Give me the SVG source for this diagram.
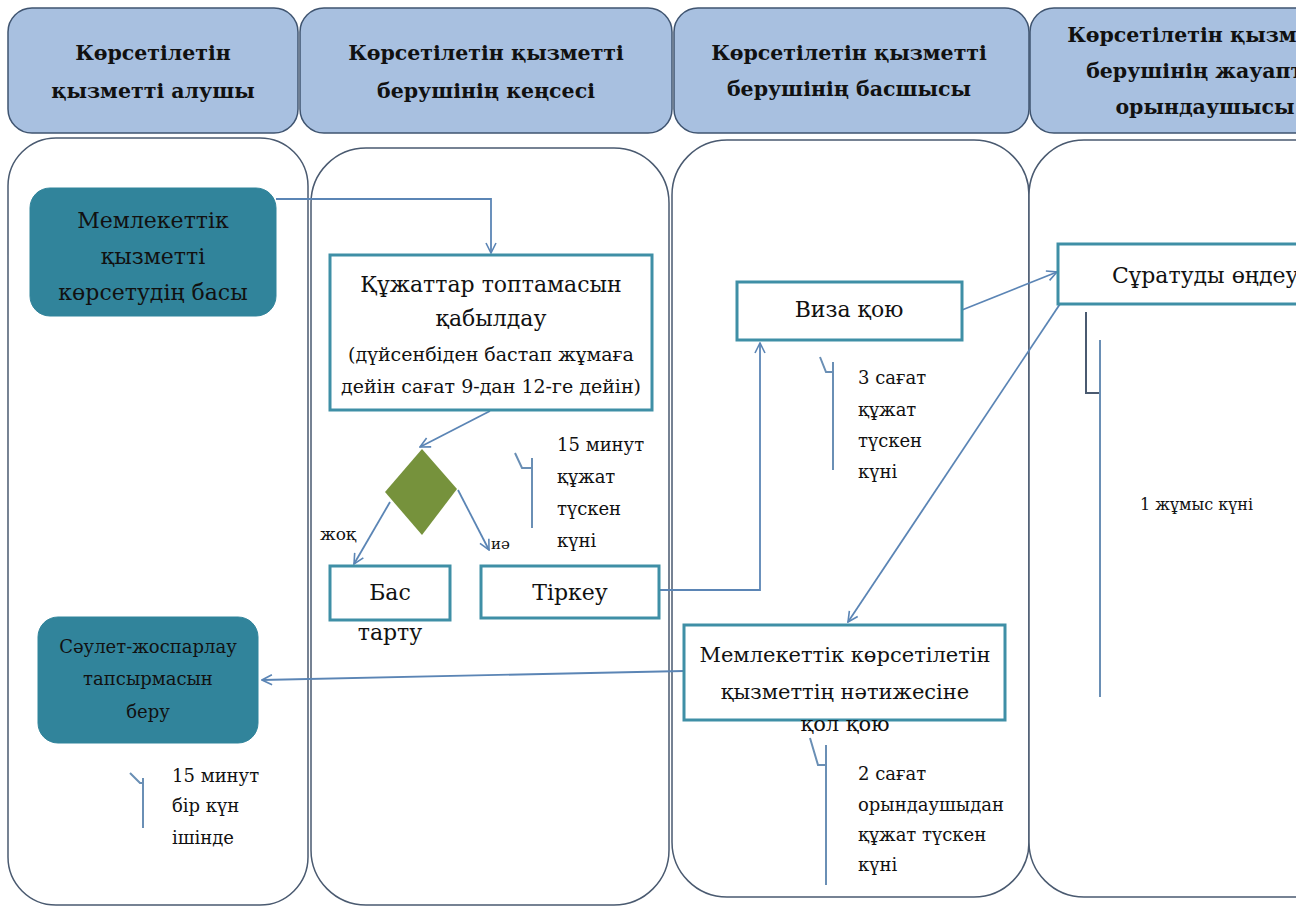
<svg xmlns="http://www.w3.org/2000/svg" width="1311" height="907" viewBox="0 0 1311 907">
<style>
.hdr{fill:#a8c0e0;stroke:#3f5470;stroke-width:1.5}
.lane{fill:#fff;stroke:#4a5a70;stroke-width:1.5}
.box{fill:#fff;stroke:#3f8fa6;stroke-width:3}
.term{fill:#31849b;stroke:#31849b}
.ht{font-family:"DejaVu Serif","Liberation Serif","Times New Roman",serif;font-weight:bold;font-size:20.5px;fill:#111;text-anchor:middle}
.t{font-family:"DejaVu Serif","Liberation Serif","Times New Roman",serif;font-size:22px;fill:#111;text-anchor:middle}
.ts{font-family:"DejaVu Serif","Liberation Serif","Times New Roman",serif;font-size:19px;fill:#111;text-anchor:middle}
.a{font-family:"DejaVu Serif","Liberation Serif","Times New Roman",serif;font-size:18px;fill:#111}
.c{fill:none;stroke:#5b85b5;stroke-width:1.8}
.br{fill:none;stroke:#6a8fb5;stroke-width:2}
</style>
<defs>
<marker id="arr" viewBox="0 0 12 12" refX="11" refY="6" markerWidth="12" markerHeight="12" markerUnits="userSpaceOnUse" orient="auto">
<path d="M1,1 L11,6 L1,11" fill="none" stroke="#5b85b5" stroke-width="1.6"/>
</marker>
<clipPath id="clip"><rect x="0" y="0" width="1296" height="907"/></clipPath>
</defs>
<rect width="1311" height="907" fill="#fff"/>
<g clip-path="url(#clip)">
<g id="lanes">
<g id="header1"><rect class="hdr" x="8" y="8" width="290" height="125" rx="24"/><text class="ht" x="153" y="60">Көрсетілетін</text><text class="ht" x="153" y="98">қызметті алушы</text></g>
<g id="header2"><rect class="hdr" x="300" y="8" width="372" height="125" rx="24"/><text class="ht" x="486" y="60">Көрсетілетін қызметті</text><text class="ht" x="486" y="98">берушінің кеңсесі</text></g>
<g id="header3"><rect class="hdr" x="674" y="8" width="355" height="125" rx="24"/><text class="ht" x="849" y="60">Көрсетілетін қызметті</text><text class="ht" x="849" y="96">берушінің басшысы</text></g>
<g id="header4"><rect class="hdr" x="1030" y="8" width="330" height="125" rx="24"/><text class="ht" x="1205" y="42">Көрсетілетін қызметті</text><text class="ht" x="1205" y="78">берушінің жауапты</text><text class="ht" x="1205" y="114">орындаушысы</text></g>
<g id="lane1"><rect class="lane" x="8" y="138" width="300" height="767" rx="48"/></g>
<g id="lane2"><rect class="lane" x="311" y="148" width="358" height="757" rx="55"/></g>
<g id="lane3"><rect class="lane" x="672" y="140" width="357" height="757" rx="55"/></g>
<g id="lane4"><rect class="lane" x="1029" y="140" width="330" height="757" rx="55"/></g>
</g>
<g id="connectors">
<path class="c" d="M276,199 H491 V253" marker-end="url(#arr)"/>
<path class="c" d="M490,411 L420,447" marker-end="url(#arr)"/>
<path class="c" d="M390,502 L354,564" marker-end="url(#arr)"/>
<path class="c" d="M458,490 L489,550" marker-end="url(#arr)"/>
<path class="c" d="M659,590 H760 V343" marker-end="url(#arr)"/>
<path class="c" d="M962,310 L1057,272" marker-end="url(#arr)"/>
<path class="c" d="M1060,304 L848,622" marker-end="url(#arr)"/>
<path class="c" d="M684,671 L262,680" marker-end="url(#arr)"/>
</g>
<g id="start"><rect class="term" x="30" y="188" width="246" height="128" rx="20"/><text class="t" x="153" y="228">Мемлекеттік</text><text class="t" x="153" y="264">қызметті</text><text class="t" x="153" y="300">көрсетудің басы</text></g>
<g id="receive"><rect class="box" x="330" y="255" width="322" height="155"/><text class="t" x="491" y="292">Құжаттар топтамасын</text><text class="t" x="491" y="326">қабылдау</text><text class="ts" x="491" y="361">(дүйсенбіден бастап жұмаға</text><text class="ts" x="491" y="393">дейін сағат 9-дан 12-ге дейін)</text></g>
<g id="decision"><polygon points="422,449 457,489 422,535 385,492" fill="#76923c"/></g>
<text class="a" x="320" y="540" style="font-size:17px">жоқ</text>
<text class="a" x="491" y="549" style="font-size:15px">иә</text>
<g id="reject"><rect class="box" x="330" y="566" width="120" height="54"/><text class="t" x="390" y="600">Бас</text><text class="t" x="390" y="640">тарту</text></g>
<g id="register"><rect class="box" x="481" y="566" width="178" height="52"/><text class="t" x="570" y="600">Тіркеу</text></g>
<g id="note1"><path class="br" d="M515,453 L522,468 L532,468 M532,458 V528"/><text class="a" x="557" y="451">15 минут</text><text class="a" x="557" y="483">құжат</text><text class="a" x="557" y="515">түскен</text><text class="a" x="557" y="547">күні</text></g>
<g id="visa"><rect class="box" x="737" y="282" width="225" height="58"/><text class="t" x="849" y="317">Виза қою</text></g>
<g id="note2"><path class="br" d="M820,357 L826,372 L833,372 M833,362 V470"/><text class="a" x="858" y="384">3 сағат</text><text class="a" x="858" y="416">құжат</text><text class="a" x="858" y="447">түскен</text><text class="a" x="858" y="478">күні</text></g>
<g id="process"><rect class="box" x="1058" y="244" width="300" height="60"/><text class="t" x="1112" y="283" style="text-anchor:start">Сұратуды өңдеу</text></g>
<g id="note3"><path d="M1086,312 V393 H1100" fill="none" stroke="#4a5a70" stroke-width="2"/><path class="br" d="M1100,340 V697"/><text class="a" x="1140" y="510" style="font-size:16px">1 жұмыс күні</text></g>
<g id="sign"><rect class="box" x="684" y="625" width="321" height="95"/><text class="t" x="845" y="662" style="font-size:21px">Мемлекеттік көрсетілетін</text><text class="t" x="845" y="699" style="font-size:21px">қызметтің нәтижесіне</text><text class="t" x="845" y="731" style="font-size:21px">қол қою</text></g>
<g id="note4"><path class="br" d="M810,738 L818,765 L826,765 M826,745 V885"/><text class="a" x="858" y="780">2 сағат</text><text class="a" x="858" y="811">орындаушыдан</text><text class="a" x="858" y="841">құжат түскен</text><text class="a" x="858" y="871">күні</text></g>
<g id="result"><rect class="term" x="38" y="617" width="220" height="126" rx="20"/><text class="ts" x="148" y="653" style="font-size:18px">Сәулет-жоспарлау</text><text class="ts" x="148" y="685" style="font-size:18px">тапсырмасын</text><text class="ts" x="148" y="718" style="font-size:18px">беру</text></g>
<g id="note5"><path class="br" d="M130,773 L140,783 L143,783 M143,778 V828"/><text class="a" x="172" y="782">15 минут</text><text class="a" x="172" y="812">бір күн</text><text class="a" x="172" y="844">ішінде</text></g>
</g>
</svg>
